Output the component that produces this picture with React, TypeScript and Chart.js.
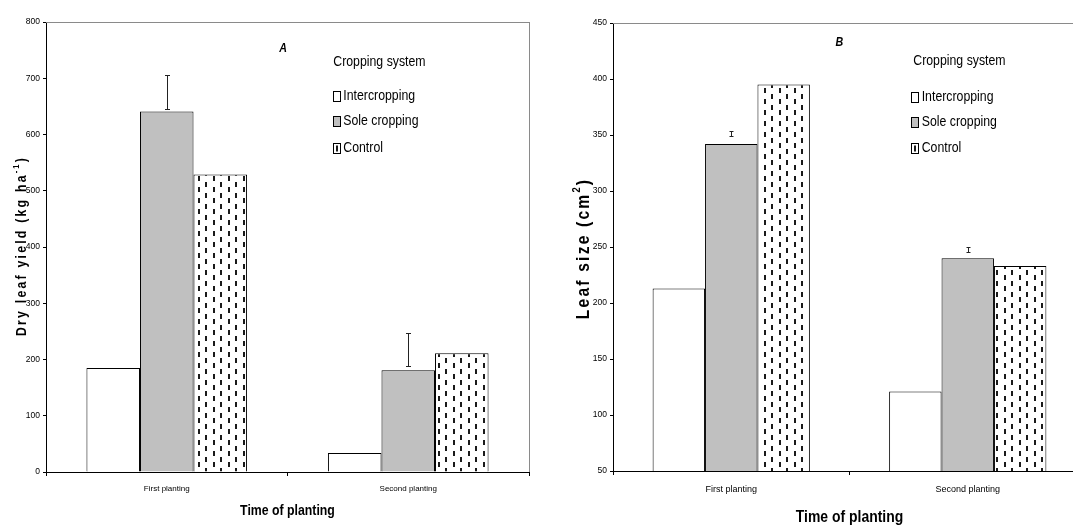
import React, { useEffect, useRef } from "react";
import { Chart, registerables } from "chart.js";

Chart.register(...registerables);

// Shared categories and series
const categories = ["First planting", "Second planting"];
const seriesNames = ["Intercropping", "Sole cropping", "Control"];
const legendTitle = "Cropping system";
const xAxisTitle = "Time of planting";

// Panel A: dry leaf yield (kg ha-1)
const yieldIntercropping = [185, 34];
const yieldSole = [641, 181];
const yieldControl = [529, 211];
const yieldSoleErrLow = [645, 188];
const yieldSoleErrHigh = [705, 248];
const yieldTicks = { min: 0, max: 800, step: 100 };

// Panel B: leaf size (cm2)
const sizeIntercropping = [213, 121];
const sizeSole = [342, 240];
const sizeControl = [395, 233];
const sizeSoleErrLow = [349, 245.5];
const sizeSoleErrHigh = [353.5, 250];
const sizeTicks = { min: 50, max: 450, step: 50 };

const FONT = '"Liberation Sans", Arial, sans-serif';
// horizontal squeeze used to give the hand-drawn texts a narrow face
const SQUEEZE = 0.82;

type Panel = {
  canvasLeft: number;
  canvasWidth: number;
  padTop: number;
  padRight: number;
  yAxisWidth: number;
  xAxisHeight: number;
  values: number[][];
  errLow: number[];
  errHigh: number[];
  ticks: { min: number; max: number; step: number };
  tickFont: number;
  catFont: number;
  catPad: number;
  xTitleFont: number;
  xTitleY: number;
  yTitle: [string, string, string];
  yTitleFont: number;
  yTitleSpacing: number;
  yTitleX: number;
  yTitleY: number;
  letter: string;
  letterX: number;
  letterY: number;
  letterFont: number;
  legendBoxX: number;
  legendTitleX: number;
  legendTitleY: number;
  legendItemsY: number[];
  legendTextX: number;
  legendFont: number;
  rightBorder: boolean;
  capHalf: number;
};

const panels: Panel[] = [
  {
    canvasLeft: 0,
    canvasWidth: 536,
    padTop: 22,
    padRight: 7,
    yAxisWidth: 46,
    xAxisHeight: 55,
    values: [yieldIntercropping, yieldSole, yieldControl],
    errLow: yieldSoleErrLow,
    errHigh: yieldSoleErrHigh,
    ticks: yieldTicks,
    tickFont: 8.5,
    catFont: 8,
    catPad: 8,
    xTitleFont: 15,
    xTitleY: 511,
    yTitle: ["Dry leaf yield (kg ha", "-1", ")"],
    yTitleFont: 15,
    yTitleSpacing: 2.7,
    yTitleX: 26,
    yTitleY: 246,
    letter: "A",
    letterX: 283,
    letterY: 48.5,
    letterFont: 13,
    legendBoxX: 332.5,
    legendTitleX: 333.3,
    legendTitleY: 61.5,
    legendItemsY: [95.8, 121, 148],
    legendTextX: 343.3,
    legendFont: 15,
    rightBorder: true,
    capHalf: 2.5,
  },
  {
    canvasLeft: 536,
    canvasWidth: 550,
    padTop: 23,
    padRight: 0,
    yAxisWidth: 77,
    xAxisHeight: 56,
    values: [sizeIntercropping, sizeSole, sizeControl],
    errLow: sizeSoleErrLow,
    errHigh: sizeSoleErrHigh,
    ticks: sizeTicks,
    tickFont: 8.5,
    catFont: 9,
    catPad: 9,
    xTitleFont: 17,
    xTitleY: 517,
    yTitle: ["Leaf size (cm", "2", ")"],
    yTitleFont: 19,
    yTitleSpacing: 2.7,
    yTitleX: 53,
    yTitleY: 248.5,
    letter: "B",
    letterX: 303.3,
    letterY: 42.7,
    letterFont: 13,
    legendBoxX: 374.7,
    legendTitleX: 377.3,
    legendTitleY: 61,
    legendItemsY: [96.7, 122.3, 148.3],
    legendTextX: 385.7,
    legendFont: 15,
    rightBorder: false,
    capHalf: 2,
  },
];

// Staggered columns of short vertical dashes on white
function makeDashPattern(canvas: HTMLCanvasElement): CanvasPattern | string {
  const tile = document.createElement("canvas");
  tile.width = 15;
  tile.height = 11;
  const c = tile.getContext("2d");
  const ctx = canvas.getContext("2d");
  if (!c || !ctx) return "#ffffff";
  c.fillStyle = "#ffffff";
  c.fillRect(0, 0, 15, 11);
  c.fillStyle = "#1a1a1a";
  c.fillRect(3, 0, 2, 5);
  c.fillRect(10, 6, 2, 5);
  return ctx.createPattern(tile, "repeat") || "#ffffff";
}

function fillNarrow(
  ctx: CanvasRenderingContext2D,
  text: string,
  x: number,
  y: number,
  align: CanvasTextAlign
) {
  ctx.save();
  ctx.translate(x, y);
  ctx.scale(SQUEEZE, 1);
  ctx.textAlign = align;
  ctx.fillText(text, 0, 0);
  ctx.restore();
}

function PanelChart({ p }: { p: Panel }) {
  const ref = useRef<HTMLCanvasElement>(null);

  useEffect(() => {
    const canvas = ref.current;
    if (!canvas) return;
    const pattern = makeDashPattern(canvas);
    const fills: (string | CanvasPattern)[] = ["#ffffff", "#c0c0c0", pattern];

    const decor = {
      id: "decor",
      afterDatasetsDraw(chart: any) {
        const ctx: CanvasRenderingContext2D = chart.ctx;
        const y = chart.scales.y;
        const meta = chart.getDatasetMeta(1);
        ctx.save();
        ctx.strokeStyle = "#222";
        ctx.lineWidth = 1;
        meta.data.forEach((bar: any, i: number) => {
          const x = Math.round(bar.x) + 0.5;
          const yTop = Math.round(y.getPixelForValue(p.errHigh[i])) + 0.5;
          const yBot = Math.round(y.getPixelForValue(p.errLow[i])) + 0.5;
          ctx.beginPath();
          ctx.moveTo(x, yTop);
          ctx.lineTo(x, yBot);
          ctx.moveTo(x - p.capHalf, yTop);
          ctx.lineTo(x + p.capHalf, yTop);
          ctx.moveTo(x - p.capHalf, yBot);
          ctx.lineTo(x + p.capHalf, yBot);
          ctx.stroke();
        });
        ctx.restore();
      },
      afterDraw(chart: any) {
        const ctx: CanvasRenderingContext2D = chart.ctx;
        const area = chart.chartArea;
        const xs = chart.scales.x;
        ctx.save();

        // plot frame: top edge and (panel A) right edge
        ctx.strokeStyle = "#8a8a8a";
        ctx.lineWidth = 1;
        ctx.beginPath();
        ctx.moveTo(area.left, Math.round(area.top) + 0.5);
        ctx.lineTo(area.right, Math.round(area.top) + 0.5);
        if (p.rightBorder) {
          ctx.moveTo(Math.round(area.right) + 0.5, area.top);
          ctx.lineTo(Math.round(area.right) + 0.5, area.bottom);
        }
        ctx.stroke();

        ctx.fillStyle = "#000";
        ctx.textBaseline = "middle";

        // x-axis title
        ctx.font = `bold ${p.xTitleFont}px ${FONT}`;
        fillNarrow(ctx, xAxisTitle, (xs.left + xs.right) / 2, p.xTitleY, "center");

        // panel letter
        ctx.font = `italic bold ${p.letterFont}px ${FONT}`;
        fillNarrow(ctx, p.letter, p.letterX, p.letterY, "center");

        // legend
        ctx.font = `${p.legendFont}px ${FONT}`;
        fillNarrow(ctx, legendTitle, p.legendTitleX, p.legendTitleY, "left");
        seriesNames.forEach((name, i) => {
          const cy = p.legendItemsY[i];
          const bx = Math.round(p.legendBoxX) + 0.5;
          const by = Math.round(cy - 5) + 0.5;
          ctx.fillStyle = i === 1 ? "#c0c0c0" : "#ffffff";
          ctx.fillRect(bx, by, 7, 10);
          if (i === 2) {
            ctx.fillStyle = "#1a1a1a";
            ctx.fillRect(bx + 2.5, by + 2, 2, 6);
          }
          ctx.strokeStyle = "#000";
          ctx.strokeRect(bx, by, 7, 10);
          ctx.fillStyle = "#000";
          fillNarrow(ctx, name, p.legendTextX, cy, "left");
        });

        // rotated y-axis title with superscript unit exponent
        const [main, sup, close] = p.yTitle;
        const supSize = p.yTitleFont * 0.6;
        const c2: any = ctx;
        c2.letterSpacing = `${p.yTitleSpacing}px`;
        ctx.font = `bold ${p.yTitleFont}px ${FONT}`;
        const wMain = ctx.measureText(main).width;
        const wClose = ctx.measureText(close).width;
        ctx.font = `bold ${supSize}px ${FONT}`;
        const wSup = ctx.measureText(sup).width;
        const total = wMain + wSup + wClose;
        ctx.translate(p.yTitleX, p.yTitleY);
        ctx.rotate(-Math.PI / 2);
        ctx.scale(SQUEEZE, 1);
        ctx.textAlign = "left";
        ctx.textBaseline = "alphabetic";
        let x = -total / 2;
        ctx.font = `bold ${p.yTitleFont}px ${FONT}`;
        ctx.fillText(main, x, 0);
        x += wMain;
        ctx.font = `bold ${supSize}px ${FONT}`;
        ctx.fillText(sup, x, -p.yTitleFont * 0.45);
        x += wSup;
        ctx.font = `bold ${p.yTitleFont}px ${FONT}`;
        ctx.fillText(close, x, 0);
        c2.letterSpacing = "0px";
        ctx.restore();
      },
    };

    const chart = new Chart(canvas, {
      type: "bar",
      data: {
        labels: categories,
        datasets: seriesNames.map((name, i) => ({
          label: name,
          data: p.values[i],
          backgroundColor: fills[i] as any,
          borderColor: "#000000",
          borderWidth: 1,
          categoryPercentage: 0.665,
          barPercentage: 1,
        })),
      },
      options: {
        responsive: false,
        animation: false,
        devicePixelRatio: 1,
        layout: {
          padding: { top: p.padTop, right: p.padRight, bottom: 0, left: 0 },
          autoPadding: false,
        },
        plugins: {
          legend: { display: false },
          tooltip: { enabled: false },
          title: { display: false },
        },
        scales: {
          x: {
            offset: true,
            grid: {
              offset: true,
              drawOnChartArea: false,
              drawTicks: true,
              tickLength: 4,
              color: "#000",
            },
            border: { color: "#000", width: 1 },
            ticks: {
              color: "#000",
              font: { family: FONT, size: p.catFont },
              padding: p.catPad,
              maxRotation: 0,
            },
            title: { display: false },
            afterFit: (s: any) => {
              s.height = p.xAxisHeight;
            },
          },
          y: {
            min: p.ticks.min,
            max: p.ticks.max,
            ticks: {
              stepSize: p.ticks.step,
              color: "#000",
              font: { family: FONT, size: p.tickFont },
              padding: 3,
            },
            grid: {
              drawOnChartArea: false,
              drawTicks: true,
              tickLength: 3,
              color: "#000",
            },
            border: { color: "#000", width: 1 },
            afterFit: (s: any) => {
              s.width = p.yAxisWidth;
            },
          },
        },
      } as any,
      plugins: [decor],
    });

    return () => chart.destroy();
  }, [p]);

  return (
    <canvas
      ref={ref}
      width={p.canvasWidth}
      height={527}
      style={{
        position: "absolute",
        left: p.canvasLeft,
        top: 0,
        width: p.canvasWidth,
        height: 527,
      }}
    />
  );
}

export default function App() {
  return (
    <div
      style={{
        position: "fixed",
        left: 0,
        top: 0,
        width: 1073,
        height: 527,
        overflow: "hidden",
        background: "#ffffff",
      }}
    >
      {panels.map((p) => (
        <PanelChart key={p.letter} p={p} />
      ))}
    </div>
  );
}
